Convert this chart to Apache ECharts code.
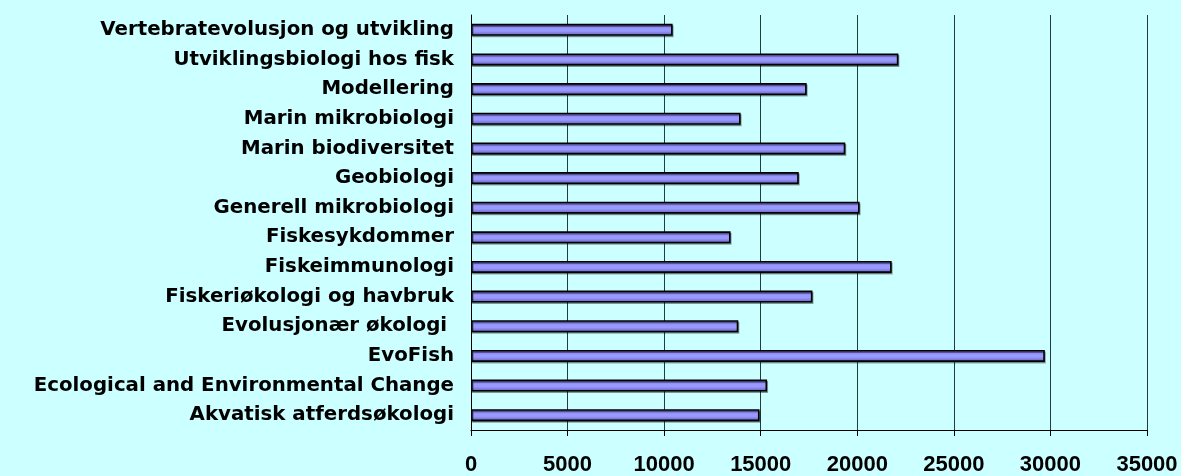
<!DOCTYPE html>
<html>
<head>
<meta charset="utf-8">
<script src="https://cdn.jsdelivr.net/npm/echarts@6/dist/echarts.min.js"></script>
<style>
  html, body { margin: 0; padding: 0; background: #ccffff; }
  #chart { width: 1181px; height: 476px; }
</style>
</head>
<body>
<div id="chart"></div>
<script>
// kategorier, ovenfra og ned
var fagomrader = [
    'Vertebratevolusjon og utvikling',
    'Utviklingsbiologi hos fisk',
    'Modellering',
    'Marin mikrobiologi',
    'Marin biodiversitet',
    'Geobiologi',
    'Generell mikrobiologi',
    'Fiskesykdommer',
    'Fiskeimmunologi',
    'Fiskeriøkologi og havbruk',
    'Evolusjonær økologi ',
    'EvoFish',
    'Ecological and Environmental Change',
    'Akvatisk atferdsøkologi'
];
var verdier = [10440, 22130, 17380, 13960, 19380, 16970, 20120, 13440, 21780, 17680, 13840, 29710, 15330, 14940];
var xTicks = [0, 5000, 10000, 15000, 20000, 25000, 30000, 35000];

var myChart = echarts.init(document.getElementById('chart'));
var option = {
    backgroundColor: '#ccffff',
    animation: false,
    grid: {
        left: 471,
        right: 34,
        top: 15,
        bottom: 43
    },
    xAxis: {
        type: 'value',
        min: xTicks[0],
        max: xTicks[xTicks.length - 1],
        interval: 5000,
        axisLine: { show: true, lineStyle: { color: '#000', width: 1 } },
        axisTick: { show: true, length: 6, lineStyle: { color: '#000' } },
        axisLabel: {
            margin: 24,
            color: '#000',
            fontFamily: 'Liberation Sans, Arial, sans-serif',
            fontWeight: 'bold',
            fontSize: 22,
            formatter: function (v) { return String(v); }
        },
        splitLine: { show: true, lineStyle: { color: '#223c3c', width: 1 } }
    },
    yAxis: {
        type: 'category',
        inverse: true,
        data: fagomrader,
        axisLine: { show: true, lineStyle: { color: '#000', width: 1 } },
        axisTick: { show: false },
        axisLabel: {
            margin: 17,
            color: '#000',
            fontFamily: 'DejaVu Sans, sans-serif',
            fontWeight: 'bold',
            fontSize: 19.8
        }
    },
    series: [{
        type: 'bar',
        data: verdier,
        barWidth: 12,
        itemStyle: {
            color: new echarts.graphic.LinearGradient(0, 0, 0, 1, [
                { offset: 0, color: '#6666cc' },
                { offset: 0.4, color: '#9999ff' },
                { offset: 0.6, color: '#9999ff' },
                { offset: 1, color: '#5c5cb8' }
            ]),
            borderColor: '#000',
            borderWidth: 1.6,
            shadowColor: 'rgba(0,0,0,0.35)',
            shadowOffsetX: 1,
            shadowOffsetY: 1.5,
            shadowBlur: 0
        }
    }]
};
myChart.setOption(option);
</script>
</body>
</html>
